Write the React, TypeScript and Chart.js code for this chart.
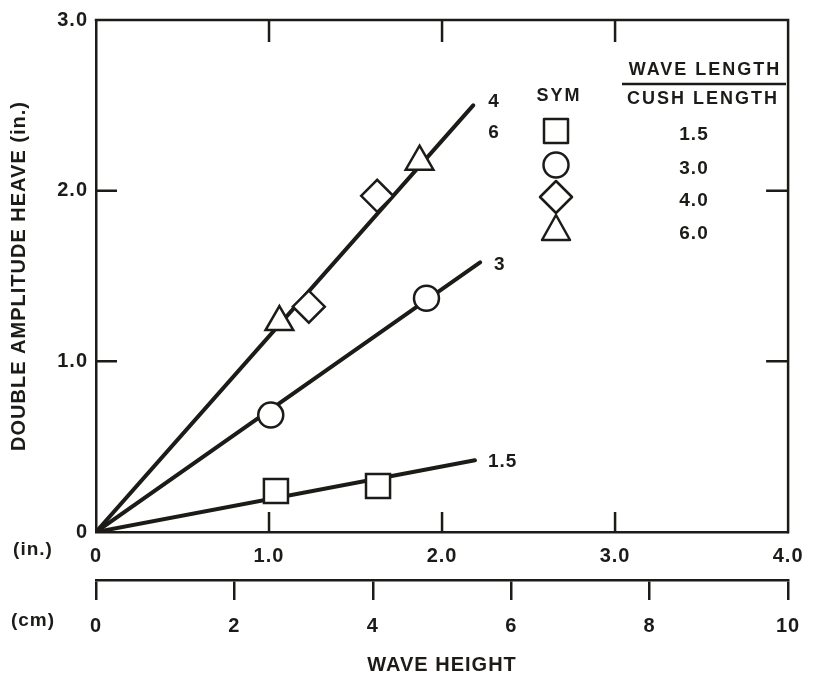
import React, { useEffect, useRef } from 'react';
import { Chart, registerables } from 'chart.js';

Chart.register(...registerables);

const INK = '#1d1b18';
const FONT = "'Liberation Sans', Arial, Helvetica, sans-serif";

// ---- axis ticks ----
const xTicksIn = [0, 1, 2, 3, 4];
const xTickLabelsIn = ['0', '1.0', '2.0', '3.0', '4.0'];
const cmTicks = [0, 2, 4, 6, 8, 10];
const cmTickLabels = ['0', '2', '4', '6', '8', '10'];
const yTicks = [0, 1, 2, 3];
const yTickLabels = ['0', '1.0', '2.0', '3.0'];
const innerXTicks = [1, 2, 3];
const innerYTicks = [1, 2];

// ---- fitted lines (wave length / cushion length) ----
const line15 = [{ x: 0, y: 0 }, { x: 2.19, y: 0.42 }];
const line3 = [{ x: 0, y: 0 }, { x: 2.22, y: 1.58 }];
const line46 = [{ x: 0, y: 0 }, { x: 2.18, y: 2.5 }];

// ---- measured points ----
const squares15 = [{ x: 1.04, y: 0.24 }, { x: 1.63, y: 0.27 }];
const circles30 = [{ x: 1.01, y: 0.685 }, { x: 1.91, y: 1.37 }];
const diamonds40 = [{ x: 1.23, y: 1.32 }, { x: 1.625, y: 1.97 }];
const triangles60 = [{ x: 1.06, y: 1.23 }, { x: 1.87, y: 2.17 }];

// ---- legend ----
const legendRatios = ['1.5', '3.0', '4.0', '6.0'];
const legendSymbols = ['square', 'circle', 'diamond', 'triangle'];

function drawSymbol(ctx: CanvasRenderingContext2D, kind: string, x: number, y: number) {
  ctx.save();
  ctx.fillStyle = '#fff';
  ctx.strokeStyle = INK;
  ctx.lineWidth = 2.5;
  ctx.lineJoin = 'round';
  ctx.beginPath();
  if (kind === 'square') {
    ctx.rect(x - 12, y - 12, 24, 24);
  } else if (kind === 'circle') {
    ctx.arc(x, y, 12.5, 0, Math.PI * 2);
  } else if (kind === 'diamond') {
    ctx.moveTo(x, y - 16);
    ctx.lineTo(x + 16, y);
    ctx.lineTo(x, y + 16);
    ctx.lineTo(x - 16, y);
    ctx.closePath();
  } else {
    ctx.moveTo(x, y - 15);
    ctx.lineTo(x + 14, y + 10);
    ctx.lineTo(x - 14, y + 10);
    ctx.closePath();
  }
  ctx.fill();
  ctx.stroke();
  ctx.restore();
}

const decorPlugin = {
  id: 'decor',
  beforeDraw(chart: any) {
    chart.ctx.letterSpacing = '1px';
  },
  beforeDatasetsDraw(chart: any) {
    const { ctx, chartArea: a, scales } = chart;
    const xs = scales.x;
    const ys = scales.y;
    ctx.save();
    ctx.strokeStyle = INK;
    ctx.lineWidth = 2.5;
    ctx.lineCap = 'square';
    ctx.beginPath();
    ctx.moveTo(a.left, a.top);
    ctx.lineTo(a.right, a.top);
    ctx.lineTo(a.right, a.bottom);
    ctx.stroke();
    ctx.lineCap = 'butt';
    ctx.beginPath();
    innerXTicks.forEach((v) => {
      const px = xs.getPixelForValue(v);
      ctx.moveTo(px, a.bottom);
      ctx.lineTo(px, a.bottom - 20);
      ctx.moveTo(px, a.top);
      ctx.lineTo(px, a.top + 22);
    });
    innerYTicks.forEach((v) => {
      const py = ys.getPixelForValue(v);
      ctx.moveTo(a.left, py);
      ctx.lineTo(a.left + 21, py);
      ctx.moveTo(a.right, py);
      ctx.lineTo(a.right - 22, py);
    });
    ctx.stroke();
    ctx.restore();
  },
  afterDraw(chart: any) {
    const { ctx } = chart;
    ctx.save();
    ctx.fillStyle = INK;
    ctx.letterSpacing = '1px';
    ctx.font = `bold 19px ${FONT}`;
    ctx.textAlign = 'center';
    ctx.textBaseline = 'middle';
    ctx.fillText('(in.)', 33, 550);
    ctx.fillText('(cm)', 33, 621);

    // line end labels
    ctx.textAlign = 'left';
    ctx.font = `bold 19px ${FONT}`;
    const end = (i: number) => {
      const pts = chart.getDatasetMeta(i).data;
      return pts[pts.length - 1];
    };
    const e46 = end(0);
    const e3 = end(1);
    const e15 = end(2);
    ctx.fillText('4', e46.x + 15, e46.y - 4);
    ctx.fillText('6', e46.x + 15, e46.y + 27);
    ctx.fillText('3', e3.x + 14, e3.y + 2);
    ctx.fillText('1.5', e15.x + 13, e15.y + 1);

    // legend
    ctx.textAlign = 'center';
    ctx.letterSpacing = '2px';
    ctx.font = `bold 18px ${FONT}`;
    ctx.fillText('SYM', 559, 96);
    ctx.fillText('WAVE LENGTH', 705, 70);
    ctx.fillText('CUSH LENGTH', 703, 99);
    ctx.strokeStyle = INK;
    ctx.lineWidth = 2.5;
    ctx.beginPath();
    ctx.moveTo(622, 84);
    ctx.lineTo(786, 84);
    ctx.stroke();
    const rowY = [131, 165, 197, 230];
    legendSymbols.forEach((k, i) => drawSymbol(ctx, k, 556, rowY[i]));
    ctx.letterSpacing = '1px';
    ctx.font = `bold 19px ${FONT}`;
    legendRatios.forEach((t, i) => ctx.fillText(t, 694, rowY[i] + 4));
    ctx.restore();
  },
};

const tickFont = { family: FONT, size: 20, weight: 'bold' as const };

export default function App() {
  const ref = useRef<HTMLCanvasElement | null>(null);
  useEffect(() => {
    if (!ref.current) return;
    const lineDs = (data: any[]) => ({
      data,
      showLine: true,
      borderColor: INK,
      borderWidth: 4,
      borderCapStyle: 'round',
      pointRadius: 0,
      order: 1,
    });
    const markDs = (data: any[], pointStyle: string, r: number) => ({
      data,
      showLine: false,
      pointStyle,
      pointRadius: r,
      backgroundColor: '#fff',
      borderColor: INK,
      borderWidth: 2.5,
      order: 0,
    });
    const chart = new Chart(ref.current, {
      type: 'scatter',
      data: {
        datasets: [
          lineDs(line46),
          lineDs(line3),
          lineDs(line15),
          markDs(squares15, 'rect', 17),
          markDs(circles30, 'circle', 12.5),
          markDs(diamonds40, 'rectRot', 16),
          markDs(triangles60, 'triangle', 16),
        ] as any,
      },
      options: {
        animation: false,
        responsive: true,
        maintainAspectRatio: false,
        events: [],
        layout: { padding: { top: 20, right: 14, left: 0, bottom: 0 } },
        plugins: { legend: { display: false }, tooltip: { enabled: false } },
        scales: {
          x: {
            type: 'linear',
            position: 'bottom',
            min: 0,
            max: 4,
            weight: 0,
            afterBuildTicks: (s: any) => {
              s.ticks = xTicksIn.map((v) => ({ value: v }));
            },
            afterFit: (s: any) => {
              s.height = 48;
            },
            grid: { display: false, drawTicks: false },
            border: { display: true, color: INK, width: 2.5 },
            ticks: {
              autoSkip: false,
              maxRotation: 0,
              color: INK,
              font: tickFont,
              padding: 12,
              callback: (v: any, i: number) => xTickLabelsIn[i],
            },
          },
          x2: {
            type: 'linear',
            position: 'bottom',
            min: 0,
            max: 10,
            weight: 1,
            afterBuildTicks: (s: any) => {
              s.ticks = cmTicks.map((v) => ({ value: v }));
            },
            afterFit: (s: any) => {
              s.height = 102;
            },
            grid: {
              display: true,
              drawOnChartArea: false,
              drawTicks: true,
              tickLength: 20,
              color: INK,
              lineWidth: 2.5,
            },
            border: { display: true, color: INK, width: 2.5 },
            ticks: {
              autoSkip: false,
              maxRotation: 0,
              color: INK,
              font: tickFont,
              padding: 14,
              callback: (v: any, i: number) => cmTickLabels[i],
            },
            title: {
              display: true,
              text: 'WAVE HEIGHT',
              color: INK,
              font: { family: FONT, size: 20, weight: 'bold' },
              padding: { top: 0, bottom: 5 },
            },
          },
          y: {
            type: 'linear',
            position: 'left',
            min: 0,
            max: 3,
            afterBuildTicks: (s: any) => {
              s.ticks = yTicks.map((v) => ({ value: v }));
            },
            afterFit: (s: any) => {
              s.width = 96;
            },
            grid: { display: false, drawTicks: false },
            border: { display: true, color: INK, width: 2.5 },
            ticks: {
              autoSkip: false,
              color: INK,
              font: tickFont,
              padding: 8,
              callback: (v: any, i: number) => yTickLabels[i],
            },
            title: {
              display: true,
              text: 'DOUBLE AMPLITUDE HEAVE (in.)',
              color: INK,
              font: { family: FONT, size: 20, weight: 'bold' },
              padding: { top: 7, bottom: 0 },
            },
          },
        },
      } as any,
      plugins: [decorPlugin],
    });
    return () => chart.destroy();
  }, []);
  return (
    <div style={{ position: 'absolute', left: 0, top: 0, width: 814, height: 682, background: '#fff' }}>
      <canvas ref={ref} />
    </div>
  );
}
